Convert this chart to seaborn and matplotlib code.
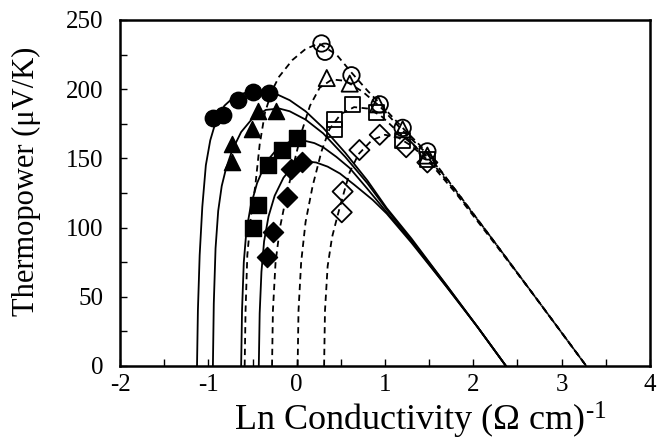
import numpy as np
import pandas as pd
import matplotlib
matplotlib.use("Agg")
import matplotlib.pyplot as plt
import seaborn as sns
from matplotlib.ticker import MultipleLocator

# ---------------- data ----------------
# filled symbols
fc_x = [-0.95, -0.83, -0.67, -0.50, -0.31]
fc_y = [179, 181, 192, 198, 197]
ft_x = [-0.73, -0.73, -0.51, -0.44, -0.23]
ft_y = [147, 160, 171, 184, 184]
fs_x = [-0.50, -0.44, -0.33, -0.17, 0.00]
fs_y = [100, 116, 145, 156, 165]
fd_x = [-0.34, -0.27, -0.11, -0.06, 0.06]
fd_y = [79, 97, 122, 142, 147]
# open symbols
oc_x = [0.28, 0.32, 0.62, 0.94, 1.20, 1.48]
oc_y = [233, 227, 210, 189, 172, 155]
ot_x = [0.34, 0.60, 0.92, 1.20, 1.48]
ot_y = [208, 204, 189, 171, 152]
os_x = [0.43, 0.43, 0.63, 0.90, 1.20, 1.48]
os_y = [178, 171, 189, 183, 163, 149]
od_x = [0.51, 0.52, 0.71, 0.94, 1.24, 1.48]
od_y = [111, 126, 156, 167, 158, 147]

# solid curves
sA_x = [-1.13, -1.12, -1.10, -1.07, -1.03, -0.98, -0.92, -0.82, -0.70, -0.55, -0.40, -0.25, -0.08, 0.10, 0.30, 0.55, 0.80, 1.02, 1.30, 1.70, 2.05, 2.37]
sA_y = [0, 40, 80, 115, 145, 163, 176, 188, 195, 198, 199, 197, 192, 184, 172, 154, 134, 114, 92, 58, 28, 0]
sB_x = [-0.95, -0.94, -0.92, -0.89, -0.85, -0.80, -0.73, -0.63, -0.50, -0.35, -0.20, -0.08, 0.10, 0.30, 0.55, 0.80, 1.02, 1.30, 1.70, 2.05, 2.37]
sB_y = [0, 45, 85, 112, 130, 143, 156, 169, 179, 185, 186, 184, 178, 168, 151, 132, 113, 91, 58, 28, 0]
sC_x = [-0.63, -0.62, -0.60, -0.57, -0.52, -0.45, -0.35, -0.22, -0.08, 0.07, 0.20, 0.30, 0.45, 0.60, 0.80, 1.02, 1.30, 1.70, 2.05, 2.37]
sC_y = [0, 40, 75, 98, 116, 132, 147, 157, 162, 163, 161, 158, 151, 143, 128, 111, 90, 57, 28, 0]
sD_x = [-0.43, -0.42, -0.40, -0.37, -0.32, -0.25, -0.15, -0.05, 0.07, 0.22, 0.35, 0.49, 0.65, 0.86, 1.02, 1.30, 1.70, 2.05, 2.37]
sD_y = [0, 38, 68, 90, 108, 123, 136, 144, 148, 147, 144, 139, 131, 120, 110, 89, 57, 28, 0]

# dashed curves
dE_x = [-0.59, -0.58, -0.56, -0.52, -0.47, -0.42, -0.36, -0.28, -0.20, -0.05, 0.10, 0.25, 0.45, 0.62, 0.80, 0.95, 1.20, 1.48, 1.80, 2.20, 2.70, 3.28]
dE_y = [0, 40, 80, 108, 130, 160, 183, 199, 209, 221, 229, 233, 225, 212, 199, 189, 172, 154, 127, 93, 50, 0]
dF_x = [-0.28, -0.27, -0.24, -0.19, -0.12, -0.03, 0.06, 0.15, 0.26, 0.40, 0.55, 0.75, 0.95, 1.20, 1.48, 1.80, 2.20, 2.70, 3.28]
dF_y = [0, 40, 75, 100, 122, 147, 170, 188, 201, 207, 206, 198, 187, 170, 153, 127, 93, 50, 0]
dG_x = [0.01, 0.02, 0.05, 0.10, 0.18, 0.28, 0.37, 0.50, 0.65, 0.80, 0.95, 1.20, 1.48, 1.80, 2.20, 2.70, 3.28]
dG_y = [0, 40, 75, 104, 130, 155, 171, 182, 187, 186, 181, 166, 151, 126, 93, 50, 0]
dH_x = [0.31, 0.32, 0.35, 0.40, 0.46, 0.52, 0.60, 0.70, 0.85, 1.00, 1.15, 1.30, 1.48, 1.80, 2.20, 2.70, 3.28]
dH_y = [0, 40, 72, 93, 108, 122, 140, 153, 163, 167, 165, 159, 149, 125, 92, 50, 0]

x_ticks = [-2, -1, 0, 1, 2, 3, 4]
y_ticks = [0, 50, 100, 150, 200, 250]

# ---------------- plotting ----------------
sns.set_theme(style="white")
plt.rcParams['font.family'] = ['Liberation Serif', 'DejaVu Serif']
plt.rcParams['mathtext.fontset'] = 'custom'
plt.rcParams['mathtext.rm'] = 'Liberation Serif'
plt.rcParams['mathtext.it'] = 'Liberation Serif:italic'
plt.rcParams['axes.unicode_minus'] = False

fig = plt.figure(figsize=(6.57, 4.43), dpi=100)
ax = fig.add_axes([0.183, 0.174, 0.806, 0.781])

solid = [(sA_x, sA_y), (sB_x, sB_y), (sC_x, sC_y), (sD_x, sD_y)]
dashed = [(dE_x, dE_y), (dF_x, dF_y), (dG_x, dG_y), (dH_x, dH_y)]
for cx, cy in solid:
    df = pd.DataFrame({"x": cx, "y": cy})
    sns.lineplot(data=df, x="x", y="y", ax=ax, sort=False, estimator=None,
                 color="black", lw=1.3, zorder=2)
for cx, cy in dashed:
    df = pd.DataFrame({"x": cx, "y": cy})
    sns.lineplot(data=df, x="x", y="y", ax=ax, sort=False, estimator=None,
                 color="black", lw=1.3, dashes=False, zorder=2)
    ax.lines[-1].set_dashes([3.5, 2.5])

filled = [(fc_x, fc_y, "o", 140), (ft_x, ft_y, "^", 135), (fs_x, fs_y, "s", 120), (fd_x, fd_y, "D", 105)]
for mx, my, m, s in filled:
    sns.scatterplot(x=mx, y=my, ax=ax, marker=m, s=s, color="black",
                    edgecolor="black", linewidth=1, zorder=3)
opened = [(oc_x, oc_y, "o", 140), (ot_x, ot_y, "^", 135), (os_x, os_y, "s", 120), (od_x, od_y, "D", 105)]
for mx, my, m, s in opened:
    sns.scatterplot(x=mx, y=my, ax=ax, marker=m, s=s, facecolor="none",
                    edgecolor="black", linewidth=1.3, zorder=3)

ax.set_xlim(-2, 4)
ax.set_ylim(0, 250)
ax.set_xticks(x_ticks)
ax.set_yticks(y_ticks)
ax.xaxis.set_minor_locator(MultipleLocator(0.5))
ax.yaxis.set_minor_locator(MultipleLocator(25))
ax.tick_params(which="both", direction="in", length=5, width=1, color="black",
               top=False, right=False, bottom=True, left=True)
ax.tick_params(axis="x", which="major", labelsize=18, pad=6, labelcolor="black")
ax.tick_params(axis="y", which="major", labelsize=18, pad=12, labelcolor="black")
for sp in ax.spines.values():
    sp.set_color("black")
    sp.set_linewidth(1.8)

ax.set_xlabel("Ln Conductivity (\u03a9 cm)$^{\\text{-1}}$", fontsize=26, color="black")
ax.xaxis.set_label_coords(0.566, -0.098)
ax.set_ylabel("Thermopower (\u03bcV/K)", fontsize=22, color="black")
ax.yaxis.set_label_coords(-0.15, 0.535)

fig.savefig("out.png", dpi=100, facecolor="white")
